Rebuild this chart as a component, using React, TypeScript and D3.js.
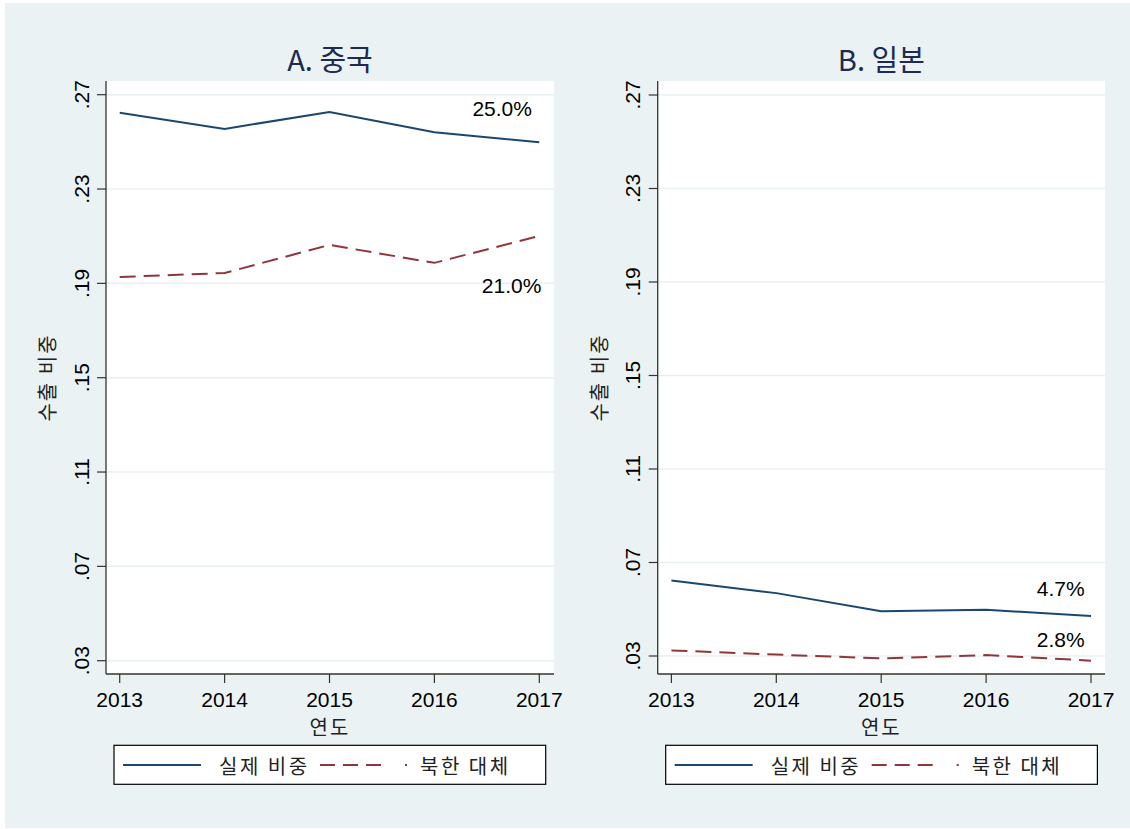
import React from "react";
import * as d3 from "d3";

// ---- data ----
const years = [2013, 2014, 2015, 2016, 2017];
const chinaActual = [0.2623, 0.2555, 0.2627, 0.2541, 0.2498];
const chinaNK = [0.1927, 0.1944, 0.2063, 0.1987, 0.2101];
const japanActual = [0.0623, 0.0569, 0.0491, 0.0498, 0.0471];
const japanNK = [0.0324, 0.0306, 0.029, 0.0304, 0.028];
const yTicks = [0.03, 0.07, 0.11, 0.15, 0.19, 0.23, 0.27];
const panelTitles = ["A. 중국", "B. 일본"];
const seriesNames = ["실제 비중", "북한 대체"];
const xTitle = "연도";
const yTitle = "수출 비중";
const chinaLabels = [
  { text: "25.0%", year: 2016.93, value: 0.261 },
  { text: "21.0%", year: 2017.02, value: 0.186 },
];
const japanLabels = [
  { text: "4.7%", year: 2016.94, value: 0.0557 },
  { text: "2.8%", year: 2016.94, value: 0.034 },
];

const BLUE = "#1a476f";
const RED = "#90353b";
const BG = "#eaf2f3";
const GRID = "#e8eff1";
const FONT = "'Liberation Sans', Arial, Helvetica, sans-serif";
const KFONT = "'Noto Sans CJK KR', 'Noto Sans', sans-serif";

type PanelProps = {
  left: number;
  right: number;
  top: number;
  bottom: number;
  yTop: number;
  yBottom: number;
  title: string;
  actual: number[];
  nk: number[];
  labels: { text: string; year: number; value: number }[];
};

function Panel(p: PanelProps) {
  const x = d3.scaleLinear().domain([2013, 2017]).range([p.left + 13.7, p.left + 433.3]);
  const y = d3.scaleLinear().domain([0.03, 0.27]).range([p.yBottom, p.yTop]);
  const line = d3
    .line<number>()
    .x((_, i) => x(years[i]))
    .y((d) => y(d));
  const cx = (p.left + p.right) / 2;
  const legL = p.left + 8;
  const legT = 745.3;
  const legY = 765;
  return (
    <g>
      <text x={cx} y={71} textAnchor="middle" fontFamily={KFONT} fontSize={29} fill="#1c2b4f">
        {p.title}
      </text>
      <rect x={p.left} y={p.top} width={p.right - p.left} height={p.bottom - p.top} fill="#fff" />
      {yTicks.map((t) => (
        <line key={"g" + t} x1={p.left} x2={p.right} y1={y(t)} y2={y(t)} stroke={GRID} strokeWidth={1.5} />
      ))}
      {yTicks.map((t) => (
        <g key={"t" + t}>
          <line x1={p.left - 9} x2={p.left} y1={y(t)} y2={y(t)} stroke="#333" strokeWidth={1.2} />
          <text
            transform={`translate(${p.left - 17.5},${y(t)}) rotate(-90)`}
            textAnchor="middle"
            fontFamily={FONT}
            fontSize={21}
            fill="#000"
          >
            {d3.format(".2f")(t).replace(/^0/, "")}
          </text>
        </g>
      ))}
      {years.map((yr) => (
        <g key={"x" + yr}>
          <line x1={x(yr)} x2={x(yr)} y1={p.bottom} y2={p.bottom + 9} stroke="#333" strokeWidth={1.2} />
          <text x={x(yr)} y={706.5} textAnchor="middle" fontFamily={FONT} fontSize={21} fill="#000">
            {yr}
          </text>
        </g>
      ))}
      <line x1={p.left} x2={p.left} y1={p.top} y2={p.bottom} stroke="#333" strokeWidth={1.3} />
      <line x1={p.left} x2={p.right} y1={p.bottom} y2={p.bottom} stroke="#333" strokeWidth={1.3} />
      <text x={cx} y={726} textAnchor="middle" dominantBaseline="central" fontFamily={KFONT} fontSize={20} letterSpacing={2} fill="#222">
        {xTitle}
      </text>
      <text
        transform={`translate(${p.left - 59.3},${(p.top + p.bottom) / 2}) rotate(-90)`}
        textAnchor="middle"
        dominantBaseline="central"
        fontFamily={KFONT}
        fontSize={20}
        letterSpacing={2}
        fill="#222"
      >
        {yTitle}
      </text>
      <path d={line(p.actual) || ""} fill="none" stroke={BLUE} strokeWidth={2} />
      <path d={line(p.nk) || ""} fill="none" stroke={RED} strokeWidth={2} strokeDasharray="16 8" />
      {p.labels.map((l) => (
        <text key={l.text} x={x(l.year)} y={y(l.value)} textAnchor="end" fontFamily={FONT} fontSize={21} fill="#000">
          {l.text}
        </text>
      ))}
      {/* legend */}
      <rect x={legL} y={legT} width={431.7} height={39} fill="#fff" stroke="#000" strokeWidth={1.2} />
      <line x1={legL + 9} x2={legL + 87} y1={legY} y2={legY} stroke={BLUE} strokeWidth={2} />
      <text x={legL + 105} y={legY} dominantBaseline="central" fontFamily={KFONT} fontSize={20} letterSpacing={2.5} fill="#222">
        {seriesNames[0]}
      </text>
      <line
        x1={legL + 206}
        x2={legL + 293}
        y1={legY}
        y2={legY}
        stroke={RED}
        strokeWidth={2}
        strokeDasharray="15 8 15 8 15 24 2 100"
      />
      <text x={legL + 306} y={legY} dominantBaseline="central" fontFamily={KFONT} fontSize={20} letterSpacing={2.5} fill="#222">
        {seriesNames[1]}
      </text>
    </g>
  );
}

export default function App() {
  return (
    <svg
      width={1130}
      height={829}
      style={{ position: "absolute", left: 0, top: 0, display: "block" }}
    >
      <rect x={0} y={0} width={1130} height={829} fill="#fff" />
      <rect x={5} y={3} width={1125} height={825} fill={BG} />
      <Panel
        left={106}
        right={554}
        top={81}
        bottom={674}
        yTop={94.7}
        yBottom={660.7}
        title={panelTitles[0]}
        actual={chinaActual}
        nk={chinaNK}
        labels={chinaLabels}
      />
      <Panel
        left={657.7}
        right={1105}
        top={81}
        bottom={674}
        yTop={95}
        yBottom={656}
        title={panelTitles[1]}
        actual={japanActual}
        nk={japanNK}
        labels={japanLabels}
      />
    </svg>
  );
}
